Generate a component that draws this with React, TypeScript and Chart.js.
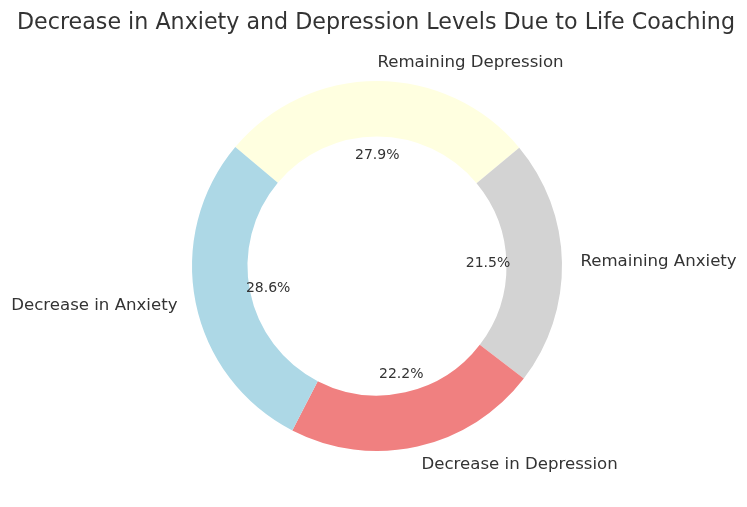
import React, { useEffect, useRef } from "react";
import { Chart, registerables } from "chart.js";

Chart.register(...registerables);

const TITLE = "Decrease in Anxiety and Depression Levels Due to Life Coaching";
// clockwise order starting from the upper-left (matplotlib startangle 140, counterclockwise)
const categories = ["Remaining Depression", "Remaining Anxiety", "Decrease in Depression", "Decrease in Anxiety"];
const values = [27.9, 21.5, 22.2, 28.6]; // percent shares
const colors = ["#FFFFE0", "#D3D3D3", "#F08080", "#ADD8E6"];

const FONT = "'DejaVu Sans', sans-serif";
const TEXT_COLOR = "#333333";

const labelPlugin = {
  id: "mplLabels",
  afterDraw(chart: any) {
    const ctx = chart.ctx;
    const meta = chart.getDatasetMeta(0);
    ctx.save();
    ctx.fillStyle = TEXT_COLOR;
    // title
    ctx.font = `22.2px ${FONT}`;
    ctx.textAlign = "center";
    ctx.textBaseline = "alphabetic";
    ctx.fillText(TITLE, 376, 29);

    meta.data.forEach((arc: any, i: number) => {
      const { x, y, startAngle, endAngle, outerRadius } = arc.getProps(
        ["x", "y", "startAngle", "endAngle", "outerRadius"],
        true
      );
      const mid = (startAngle + endAngle) / 2;
      const cx = Math.cos(mid);
      const sy = Math.sin(mid);
      // outer label
      const lx = x + cx * outerRadius * 1.1;
      const ly = y + sy * outerRadius * 1.1;
      ctx.font = `16.6px ${FONT}`;
      ctx.textBaseline = "middle";
      ctx.textAlign = cx > -1e-9 ? "left" : "right";
      ctx.fillText(categories[i], lx, ly);
      // percent label
      const px = x + cx * outerRadius * 0.6;
      const py = y + sy * outerRadius * 0.6;
      ctx.font = `14px ${FONT}`;
      ctx.textAlign = "center";
      ctx.fillText(values[i].toFixed(1) + "%", px, py);
    });
    ctx.restore();
  },
};

export default function App() {
  const ref = useRef<HTMLCanvasElement>(null);
  useEffect(() => {
    if (!ref.current) return;
    const chart = new Chart(ref.current, {
      type: "doughnut",
      data: {
        labels: categories,
        datasets: [
          {
            data: values,
            backgroundColor: colors,
            borderWidth: 0,
            hoverOffset: 0,
            offset: 0,
            spacing: 0,
          },
        ],
      },
      options: {
        animation: false,
        responsive: false,
        rotation: -50,
        cutout: "70%",
        layout: { padding: { top: 81, bottom: 56, left: 192, right: 185 } },
        plugins: {
          legend: { display: false },
          title: { display: false },
          tooltip: { enabled: false },
        },
        events: [],
      },
      plugins: [labelPlugin],
    });
    return () => chart.destroy();
  }, []);
  return (
    <div style={{ position: "fixed", left: 0, top: 0, width: 747, height: 507, background: "#fff" }}>
      <canvas ref={ref} width={747} height={507} style={{ width: 747, height: 507 }} />
    </div>
  );
}
